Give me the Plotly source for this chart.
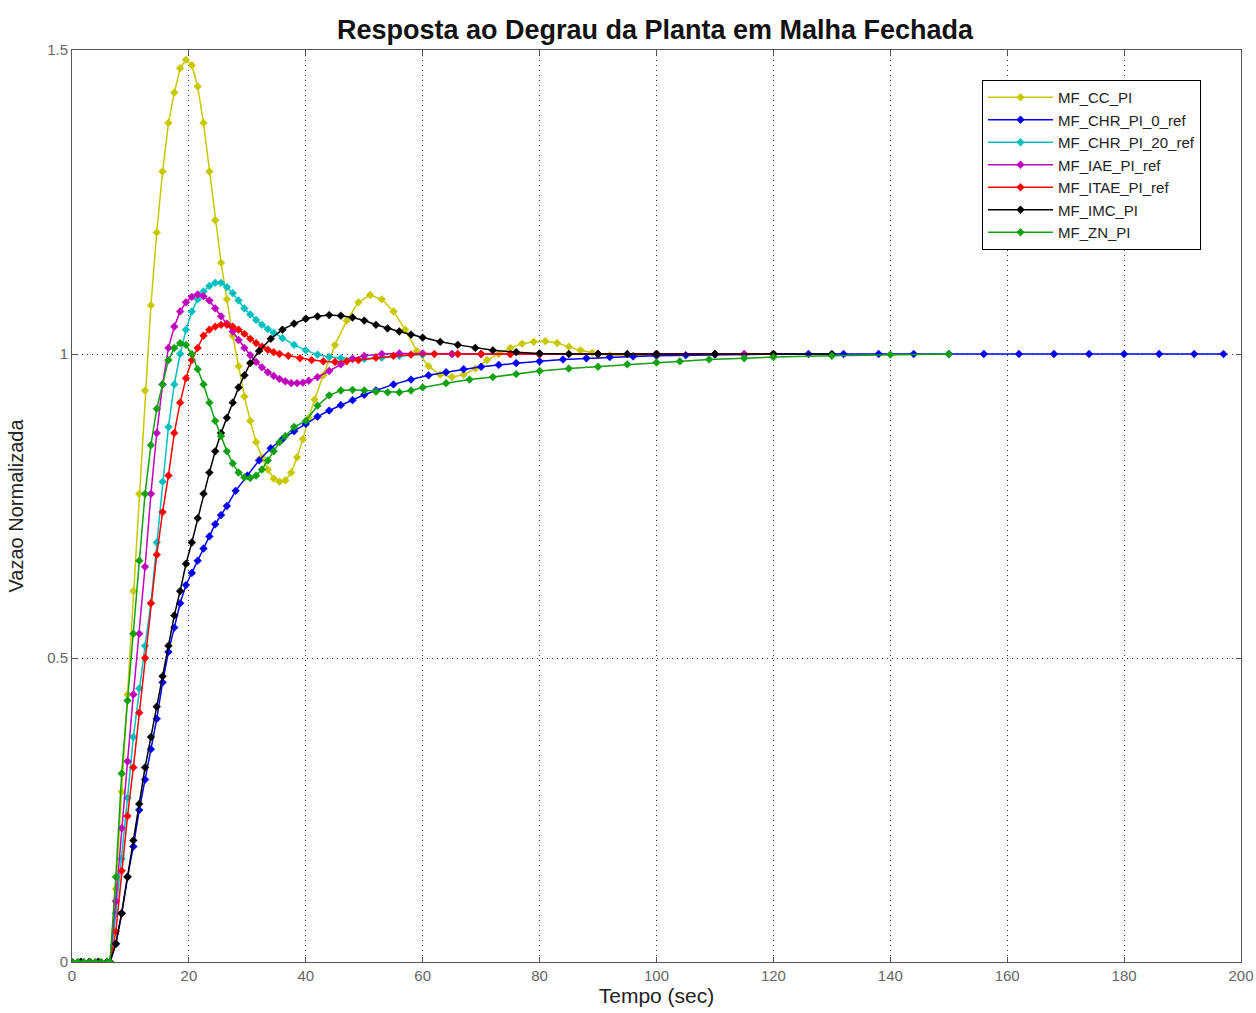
import plotly.graph_objects as go

# ---------------- data ----------------
series_names = ["MF_CC_PI", "MF_CHR_PI_0_ref", "MF_CHR_PI_20_ref", "MF_IAE_PI_ref",
                "MF_ITAE_PI_ref", "MF_IMC_PI", "MF_ZN_PI"]

t_cc = [0, 1.5, 3, 4.5, 6, 6.5, 7.5, 8.5, 9.5, 10.5, 11.5, 12.5, 13.5, 14.5, 15.5, 16.5, 17.5,
        18.5, 19.5, 20.5, 21.5, 22.5, 23.5, 24.5, 25.5, 26.5, 27.5, 28.5, 29.5, 30.5, 31.5,
        32.5, 33.5, 34.5, 35.5, 36.5, 37.5, 38.5, 39.5, 40.5, 41.5, 43, 45, 47, 49, 51, 53,
        55, 57, 59, 61, 63, 65, 67, 69, 71, 73, 75, 77, 79, 81, 83, 85, 87, 89, 92, 96, 100]
y_cc = [0, 0, 0, 0, 0, 0, 0.12, 0.28, 0.44, 0.61, 0.77, 0.94, 1.08, 1.20, 1.30, 1.38, 1.43,
        1.47, 1.484, 1.475, 1.44, 1.38, 1.30, 1.22, 1.15, 1.09, 1.03, 0.98, 0.93, 0.89, 0.855,
        0.83, 0.81, 0.795, 0.79, 0.792, 0.805, 0.83, 0.86, 0.895, 0.925, 0.965, 1.015, 1.055,
        1.085, 1.097, 1.09, 1.07, 1.04, 1.005, 0.98, 0.966, 0.962, 0.966, 0.976, 0.99, 1.0,
        1.01, 1.017, 1.02, 1.021, 1.018, 1.012, 1.006, 1.002, 0.998, 0.997, 0.999]

t_chr0 = [0, 1.5, 3, 4.5, 6, 6.5, 7.5, 8.5, 9.5, 10.5, 11.5, 12.5, 13.5, 14.5, 15.5, 16.5,
          17.5, 18.5, 19.5, 20.5, 21.5, 22.5, 23.5, 24.5, 25.5, 26.5, 28, 30, 32, 34, 36, 38,
          40, 42, 44, 46, 48, 50, 52, 55, 58, 61, 64, 67, 70, 73, 76, 80, 84, 88, 92, 96, 100,
          105, 110, 115, 120, 126, 132, 138, 144, 150, 156, 162, 168, 174, 180, 186, 192, 197]
y_chr0 = [0, 0, 0, 0, 0, 0, 0.03, 0.08, 0.14, 0.19, 0.25, 0.30, 0.35, 0.40, 0.46, 0.51,
          0.55, 0.59, 0.62, 0.64, 0.66, 0.68, 0.70, 0.72, 0.735, 0.75, 0.775, 0.80, 0.825,
          0.845, 0.86, 0.873, 0.885, 0.897, 0.907, 0.916, 0.924, 0.933, 0.94, 0.95, 0.958,
          0.965, 0.97, 0.975, 0.979, 0.982, 0.985, 0.988, 0.991, 0.993, 0.995, 0.996, 0.997,
          0.998, 0.999, 0.999, 1.0, 1.0, 1.0, 1.0, 1.0, 1.0, 1.0, 1.0, 1.0, 1.0, 1.0, 1.0,
          1.0, 1.0]

t_chr20 = [0, 1.5, 3, 4.5, 6, 6.5, 7.5, 8.5, 9.5, 10.5, 11.5, 12.5, 13.5, 14.5, 15.5, 16.5,
           17.5, 18.5, 19.5, 20.5, 21.5, 22.5, 23.5, 24.5, 25.5, 26.5, 27.5, 28.5, 29.5, 30.5,
           31.5, 32.5, 33.5, 34.5, 36, 38, 40, 42, 44, 46, 48, 50, 53, 56, 60, 65, 70, 80, 90,
           100, 110]
y_chr20 = [0, 0, 0, 0, 0, 0, 0.08, 0.17, 0.27, 0.37, 0.45, 0.52, 0.59, 0.69, 0.79, 0.88,
           0.95, 1.0, 1.04, 1.07, 1.09, 1.103, 1.112, 1.117, 1.117, 1.11, 1.10, 1.088, 1.075,
           1.065, 1.056, 1.048, 1.041, 1.035, 1.026, 1.015, 1.006, 0.999, 0.995, 0.993, 0.992,
           0.992, 0.994, 0.997, 0.999, 1.0, 1.0, 1.0, 1.0, 1.0, 1.0]

t_iae = [0, 1.5, 3, 4.5, 6, 6.5, 7.5, 8.5, 9.5, 10.5, 11.5, 12.5, 13.5, 14.5, 15.5, 16.5, 17.5,
         18.5, 19.5, 20.5, 21.5, 22.5, 23.5, 24.5, 25.5, 26.5, 27.5, 28.5, 29.5, 30.5, 31.5,
         32.5, 33.5, 34.5, 35.5, 36.5, 37.5, 38.5, 39.5, 40.5, 42, 44, 46, 48, 50, 53, 56, 60,
         65, 70, 75, 80, 90, 100, 115]
y_iae = [0, 0, 0, 0, 0, 0, 0.10, 0.22, 0.33, 0.44, 0.54, 0.65, 0.77, 0.87, 0.95, 1.01, 1.045,
         1.07, 1.085, 1.094, 1.098, 1.095, 1.088, 1.075, 1.062, 1.05, 1.037, 1.023, 1.01, 0.998,
         0.987, 0.978, 0.97, 0.964, 0.959, 0.955, 0.952, 0.952, 0.953, 0.956, 0.962, 0.972,
         0.983, 0.992, 0.997, 1.0, 1.001, 1.001, 1.0, 1.0, 1.0, 1.0, 1.0, 1.0, 1.0]

t_itae = [0, 1.5, 3, 4.5, 6, 6.5, 7.5, 8.5, 9.5, 10.5, 11.5, 12.5, 13.5, 14.5, 15.5, 16.5,
          17.5, 18.5, 19.5, 20.5, 21.5, 22.5, 23.5, 24.5, 25.5, 26.5, 27.5, 28.5, 29.5, 30.5,
          31.5, 32.5, 33.5, 34.5, 35.5, 37, 39, 41, 43, 45, 47, 49, 52, 55, 58, 62, 66, 70, 75,
          80, 90, 100, 110, 120]
y_itae = [0, 0, 0, 0, 0, 0, 0.05, 0.15, 0.24, 0.32, 0.41, 0.50, 0.59, 0.67, 0.74, 0.80, 0.87,
          0.92, 0.96, 0.99, 1.01, 1.03, 1.04, 1.045, 1.048, 1.048, 1.045, 1.04, 1.033, 1.025,
          1.018, 1.012, 1.007, 1.003, 1.0, 0.997, 0.993, 0.99, 0.988, 0.987, 0.988, 0.99,
          0.994, 0.997, 0.999, 1.0, 1.0, 1.0, 1.0, 1.0, 1.0, 1.0, 1.0, 1.0]

t_imc = [0, 1.5, 3, 4.5, 6, 6.5, 7.5, 8.5, 9.5, 10.5, 11.5, 12.5, 13.5, 14.5, 15.5, 16.5, 17.5,
         18.5, 19.5, 20.5, 21.5, 22.5, 23.5, 24.5, 25.5, 26.5, 27.5, 28.5, 29.5, 30.5, 32, 34,
         36, 38, 40, 42, 44, 46, 48, 50, 52, 54, 56, 58, 60, 63, 66, 69, 72, 76, 80, 85, 90,
         95, 100, 110, 120, 130]
y_imc = [0, 0, 0, 0, 0, 0, 0.03, 0.08, 0.14, 0.20, 0.26, 0.32, 0.37, 0.42, 0.47, 0.52, 0.57,
         0.61, 0.655, 0.69, 0.73, 0.77, 0.805, 0.84, 0.87, 0.895, 0.92, 0.945, 0.965, 0.985,
         1.005, 1.025, 1.04, 1.05, 1.058, 1.062, 1.064, 1.063, 1.06, 1.055, 1.048, 1.042,
         1.037, 1.032, 1.027, 1.02, 1.015, 1.01, 1.006, 1.003, 1.001, 1.0, 1.0, 1.0, 1.0, 1.0,
         1.0, 1.0]

t_zn = [0, 1, 2, 3, 4, 5, 6, 6.5, 7.5, 8.5, 9.5, 10.5, 11.5, 12.5, 13.5, 14.5, 15.5, 16.5,
        17.5, 18.5, 19.5, 20.5, 21.5, 22.5, 23.5, 24.5, 25.5, 26.5, 27.5, 28.5, 29.5, 30.5,
        31.5, 32.5, 33.5, 34.5, 35.5, 36.5, 38, 40, 42, 44, 46, 48, 50, 52, 54, 56, 58, 60, 64,
        68, 72, 76, 80, 85, 90, 95, 100, 104, 109, 115, 120, 130, 140, 150]
y_zn = [0, 0, 0, 0, 0, 0, 0, 0, 0.14, 0.31, 0.43, 0.54, 0.66, 0.77, 0.85, 0.91, 0.95, 0.99,
        1.01, 1.018, 1.015, 1.0, 0.975, 0.95, 0.92, 0.89, 0.865, 0.84, 0.82, 0.805, 0.797,
        0.796, 0.80, 0.81, 0.825, 0.84, 0.855, 0.865, 0.88, 0.89, 0.915, 0.932, 0.94, 0.941,
        0.94, 0.938, 0.937, 0.937, 0.94, 0.945, 0.952, 0.958, 0.962, 0.967, 0.972, 0.976,
        0.979, 0.983, 0.986, 0.988, 0.991, 0.993, 0.995, 0.997, 0.999, 1.0]

series_t = [t_cc, t_chr0, t_chr20, t_iae, t_itae, t_imc, t_zn]
series_y = [y_cc, y_chr0, y_chr20, y_iae, y_itae, y_imc, y_zn]
colors = ["#c8c800", "#0000f0", "#00bfbf", "#bf00bf", "#ff0000", "#000000", "#10a010"]

x_ticks = [0, 20, 40, 60, 80, 100, 120, 140, 160, 180, 200]
y_ticks = [0, 0.5, 1, 1.5]
y_tick_text = ["0", "0.5", "1", "1.5"]

# ---------------- figure ----------------
W, H = 1256, 1013
fig = go.Figure()
for name, tx, ty, c in zip(series_names, series_t, series_y, colors):
    fig.add_trace(go.Scatter(
        x=tx, y=ty, name=name, mode="lines+markers",
        line=dict(color=c, width=1.5),
        marker=dict(symbol="diamond", size=6, color=c, line=dict(color=c, width=0.5)),
    ))

FONT = "Liberation Sans, Arial"
axis_common = dict(
    showline=True, linecolor="#555555", linewidth=1, mirror="ticks",
    ticks="inside", ticklen=5, tickcolor="#555555", automargin=False,
    showgrid=True, gridcolor="#333333", griddash="1px,4px", gridwidth=1,
    zeroline=False, tickfont=dict(family=FONT, size=15, color="#666666"),
)

fig.update_layout(
    width=W, height=H,
    margin=dict(l=72, r=15, t=50, b=51),
    paper_bgcolor="white", plot_bgcolor="white",
    title=dict(text="<b>Resposta ao Degrau da Planta em Malha Fechada</b>",
               x=655 / W, xanchor="center", y=1 - 30 / H, yanchor="middle",
               font=dict(family=FONT, size=27, color="#111111")),
    xaxis=dict(range=[0, 200], tickvals=x_ticks,
               title=dict(text="Tempo (sec)", standoff=5,
                          font=dict(family=FONT, size=21, color="#222222")),
               **axis_common),
    yaxis=dict(range=[0, 1.5], tickvals=y_ticks, ticktext=y_tick_text,
               title=dict(text="Vazao Normalizada", standoff=18,
                          font=dict(family=FONT, size=20, color="#222222")),
               **axis_common),
    legend=dict(x=(982 - 72) / 1169, y=(962 - 80) / 912, xanchor="left", yanchor="top",
                bgcolor="white", bordercolor="#000000", borderwidth=1,
                font=dict(family=FONT, size=15, color="#222222"),
                itemwidth=65, tracegroupgap=0),
    showlegend=True,
)

fig.write_html("out.html", config={"displayModeBar": False},
               post_script="document.body.style.margin='0';document.body.style.overflow='hidden';")
